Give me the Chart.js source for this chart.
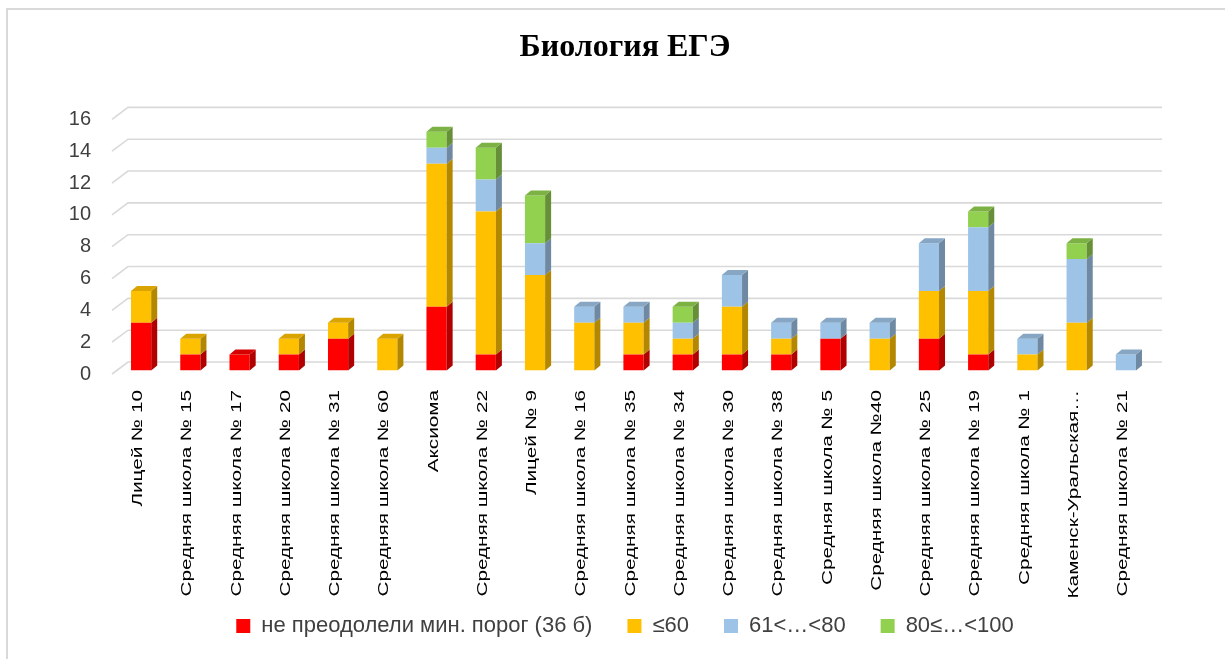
<!DOCTYPE html>
<html lang="ru">
<head>
<meta charset="utf-8">
<title>Биология ЕГЭ</title>
<script src="https://cdn.jsdelivr.net/npm/chart.js@4.4.1/dist/chart.umd.min.js"></script>
<style>
    html, body { margin: 0; padding: 0; overflow: hidden; background: #fff; }
    #wrap { position: relative; width: 1225px; height: 659px; overflow: hidden; }
    #wrap canvas { position: absolute; left: 0; top: 0; }
    #frame { position: absolute; left: 6px; top: 8px; width: 1300px; height: 700px;
             border: 2px solid #d9d9d9; pointer-events: none; }
</style>
</head>
<body>
<div id="wrap">
    <canvas id="egeChart" width="1250" height="659"></canvas>
    <div id="frame"></div>
</div>
<script>
// Школы
const schools = [
    'Лицей № 10', 'Средняя школа № 15', 'Средняя школа № 17', 'Средняя школа № 20',
    'Средняя школа № 31', 'Средняя школа № 60', 'Аксиома', 'Средняя школа № 22',
    'Лицей № 9', 'Средняя школа № 16', 'Средняя школа № 35', 'Средняя школа № 34',
    'Средняя школа № 30', 'Средняя школа № 38', 'Средняя школа № 5', 'Средняя школа №40',
    'Средняя школа № 25', 'Средняя школа № 19', 'Средняя школа № 1', 'Каменск-Уральская…',
    'Средняя школа № 21'
];

// Количество участников по группам баллов
const belowMin    = [3, 1, 1, 1, 2, 0, 4, 1, 0, 0, 1, 1, 1, 1, 2, 0, 2, 1, 0, 0, 0];
const upTo60      = [2, 1, 0, 1, 1, 2, 9, 9, 6, 3, 2, 1, 3, 1, 0, 2, 3, 4, 1, 3, 0];
const from61to80  = [0, 0, 0, 0, 0, 0, 1, 2, 2, 1, 1, 1, 2, 1, 1, 1, 3, 4, 1, 4, 1];
const from80to100 = [0, 0, 0, 0, 0, 0, 1, 2, 3, 0, 0, 1, 0, 0, 0, 0, 0, 1, 0, 1, 0];

const seriesNames = ['не преодолели мин. порог (36 б)', '≤60', '61<…<80', '80≤…<100'];
const yMax = 16;
const yStep = 2;

const frontColors = ['#FF0000', '#FFC000', '#9DC3E6', '#92D050'];
const sideColors  = ['#B00000', '#B38700', '#6E89A1', '#668F38'];
const topColors   = ['#D60000', '#D9A300', '#86A6C4', '#7CB144'];

const SANS = '"Liberation Sans", Arial, sans-serif';

// псевдо-3D: глубина столбца, сдвиг задней стенки и плоскости столбцов
const DEPTH_X = 6, DEPTH_Y = 5;
const WALL_X = 16, WALL_Y = 12;
const BAR_X = 4.5, BAR_Y = 3.5;
const LABEL_STRETCH = 1.38;

function fillPoly(ctx, pts) {
    ctx.beginPath();
    ctx.moveTo(pts[0][0], pts[0][1]);
    for (let i = 1; i < pts.length; i++) ctx.lineTo(pts[i][0], pts[i][1]);
    ctx.closePath();
    ctx.fill();
}

const excel3d = {
    id: 'excel3d',
    beforeDatasetsDraw(chart) {
        const { ctx, chartArea: a, scales: { y } } = chart;
        // сетка на задней стенке с косым отрезком слева
        ctx.save();
        ctx.strokeStyle = '#d9d9d9';
        ctx.lineWidth = 1.6;
        y.ticks.forEach(t => {
            const py = y.getPixelForValue(t.value);
            ctx.beginPath();
            ctx.moveTo(a.left, py);
            ctx.lineTo(a.left + WALL_X, py - WALL_Y);
            ctx.lineTo(a.right + WALL_X, py - WALL_Y);
            ctx.stroke();
        });
        ctx.restore();
        ctx.save();
        ctx.translate(BAR_X, -BAR_Y);
    },
    afterDatasetsDraw(chart) {
        const ctx = chart.ctx;
        const metas = chart.getSortedVisibleDatasetMetas();
        chart.data.labels.forEach((_, i) => {
            let topK = -1;
            metas.forEach((m, k) => { if (chart.data.datasets[m.index].data[i] > 0) topK = k; });
            metas.forEach((m, k) => {
                if (!(chart.data.datasets[m.index].data[i] > 0)) return;
                const { x, y, base, width } = m.data[i].getProps(['x', 'y', 'base', 'width'], true);
                const l = x - width / 2, r = x + width / 2;
                ctx.fillStyle = sideColors[m.index];
                fillPoly(ctx, [[r, y], [r + DEPTH_X, y - DEPTH_Y], [r + DEPTH_X, base - DEPTH_Y], [r, base]]);
                if (k === topK) {
                    ctx.fillStyle = topColors[m.index];
                    fillPoly(ctx, [[l, y], [l + DEPTH_X, y - DEPTH_Y], [r + DEPTH_X, y - DEPTH_Y], [r, y]]);
                }
            });
        });
        ctx.restore();
    },
    afterDraw(chart) {
        // вертикальные подписи школ
        const { ctx, chartArea: a, scales: { x } } = chart;
        ctx.save();
        ctx.font = '15px ' + SANS;
        ctx.fillStyle = '#000';
        ctx.textAlign = 'right';
        ctx.textBaseline = 'middle';
        chart.data.labels.forEach((lbl, i) => {
            ctx.save();
            ctx.translate(x.getPixelForTick(i) + 1.5, a.bottom + 16);
            ctx.rotate(-Math.PI / 2);
            ctx.scale(LABEL_STRETCH, 1);
            ctx.fillText(lbl, 0, 0);
            ctx.restore();
        });
        ctx.restore();
    }
};

const seriesData = [belowMin, upTo60, from61to80, from80to100];

new Chart(document.getElementById('egeChart'), {
    type: 'bar',
    data: {
        labels: schools,
        datasets: seriesData.map((d, k) => ({
            label: seriesNames[k],
            data: d,
            backgroundColor: frontColors[k],
            borderWidth: 0,
            barPercentage: 0.41,
            categoryPercentage: 1
        }))
    },
    options: {
        responsive: false,
        animation: false,
        devicePixelRatio: 1,
        layout: { padding: { top: 0, bottom: 12, left: 0, right: 0 } },
        plugins: {
            title: {
                display: true,
                text: 'Биология ЕГЭ',
                color: '#000',
                font: { family: '"Liberation Serif", "Times New Roman", serif', size: 32, weight: 'bold' },
                padding: { top: 29, bottom: 52 }
            },
            legend: {
                position: 'bottom',
                labels: {
                    boxWidth: 14,
                    boxHeight: 14,
                    padding: 35,
                    color: '#404040',
                    font: { family: SANS, size: 22 }
                }
            },
            tooltip: { enabled: false }
        },
        scales: {
            x: {
                stacked: true,
                ticks: { display: false },
                grid: { display: false, drawTicks: false },
                border: { display: false },
                afterFit(s) { s.height = 206; }
            },
            y: {
                stacked: true,
                min: 0,
                max: yMax,
                ticks: {
                    stepSize: yStep,
                    padding: 21,
                    color: '#404040',
                    font: { family: SANS, size: 20 }
                },
                grid: { display: false, drawTicks: false },
                border: { display: false },
                afterFit(s) { s.width = 112; }
            },
            yRight: {
                type: 'linear',
                position: 'right',
                ticks: { display: false },
                grid: { display: false, drawTicks: false },
                border: { display: false },
                afterFit(s) { s.width = 104; }
            }
        }
    },
    plugins: [excel3d]
});
</script>
</body>
</html>
